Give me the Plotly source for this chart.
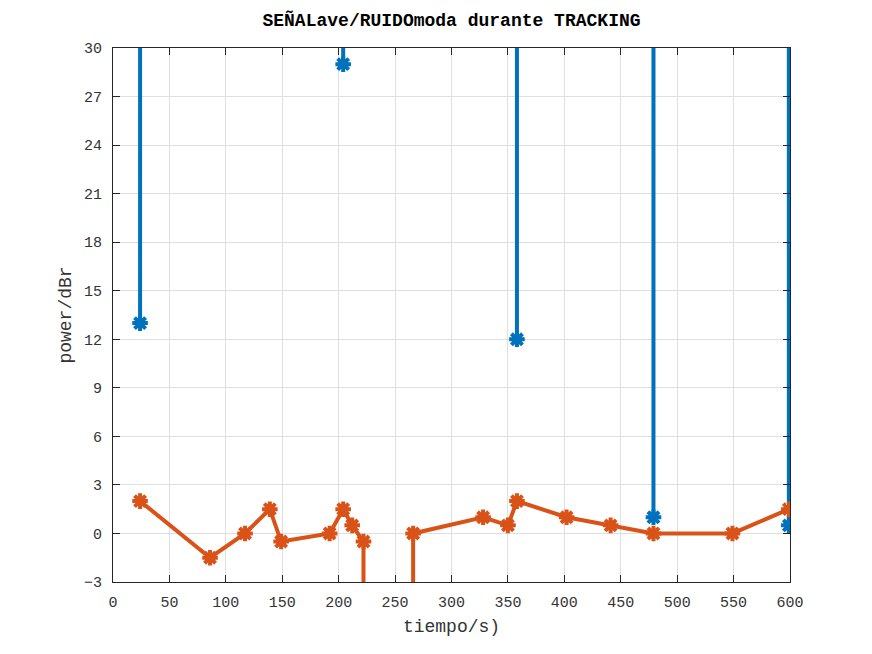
import plotly.graph_objects as go

# time samples (s)
tiempo = [24, 86, 117, 139, 149, 192, 204, 212, 222, 244, 266, 328, 350, 358,
          402, 441, 479, 549, 599]
# SEÑALave (dBr) - values far off the top of the axis are very large
senal = [13, 1e5, 1e5, 1e5, 1e5, 1e5, 29, 1e5, 1e5, 1e5, 1e5, 1e5, 1e5, 12,
         1e5, 1e5, 1, 1e5, 0.5]
# RUIDOmoda (dBr) - one value far below the axis
ruido = [2, -1.5, 0, 1.5, -0.5, 0, 1.5, 0.5, -0.5, -1e5, 0, 1, 0.5, 2,
         1, 0.5, 0, 0, 1.5]

x_ticks = list(range(0, 601, 50))
y_ticks = list(range(-3, 31, 3))

BLUE = "#0072BD"
ORANGE = "#D95319"
FONT = "Liberation Mono, Courier New, monospace"

fig = go.Figure()
fig.add_trace(go.Scatter(
    x=tiempo, y=senal, mode="lines+markers",
    line=dict(color=BLUE, width=4),
    marker=dict(symbol="asterisk-open", size=13, color=BLUE,
                line=dict(color=BLUE, width=4)),
    cliponaxis=True, showlegend=False))
fig.add_trace(go.Scatter(
    x=tiempo, y=ruido, mode="lines+markers",
    line=dict(color=ORANGE, width=4),
    marker=dict(symbol="asterisk-open", size=13, color=ORANGE,
                line=dict(color=ORANGE, width=4)),
    cliponaxis=True, showlegend=False))

axis_common = dict(
    showgrid=True, gridcolor="#dfdfdf", gridwidth=1,
    zeroline=False, showline=True, linecolor="#262626", linewidth=1,
    mirror="ticks", ticks="inside", ticklen=7, tickcolor="#262626",
    tickfont=dict(family=FONT, size=15, color="#333333"),
)

fig.update_layout(
    width=872, height=654,
    margin=dict(l=105, r=90, t=40, b=80),
    paper_bgcolor="white", plot_bgcolor="white",
    title=dict(text="<b>SEÑALave/RUIDOmoda durante TRACKING</b>",
               x=0.5, xanchor="center", y=0.982, yanchor="middle",
               xref="paper",
               font=dict(family=FONT, size=18, color="black")),
    xaxis=dict(range=[0, 600], tickvals=x_ticks,
               title=dict(text="tiempo/s)", standoff=8,
                          font=dict(family=FONT, size=18, color="#333333")),
               ticklabelstandoff=6, **axis_common),
    yaxis=dict(range=[-3, 30], tickvals=y_ticks,
               title=dict(text="power/dBr", standoff=7,
                          font=dict(family=FONT, size=18, color="#333333")),
               ticklabelstandoff=7, **axis_common),
)

fig.write_html("out.html")
